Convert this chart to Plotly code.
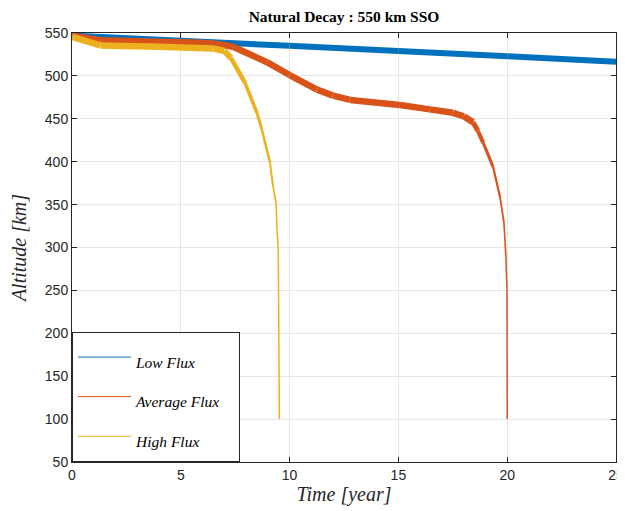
import plotly.graph_objects as go

# ---- data ----
time_low = [0, 5, 10, 15, 20, 25]
alt_low = [547, 541, 535, 529, 523, 516.5]

time_avg = [0, 1.3, 3.5, 6.0, 6.6, 7.4, 8.96, 10.0, 11.26, 12.0, 12.78, 15.07,
            16.45, 17.5, 18.0, 18.43, 18.65, 18.9, 19.35, 19.67, 19.85, 19.94, 19.99, 20.0]
alt_avg = [547, 541.5, 540, 538.5, 537.5, 534, 516, 501, 484, 477, 472, 466,
           461, 457, 453, 446, 436, 422, 394, 359, 329, 289, 251, 100]

time_high = [0, 1.3, 4, 6.5, 7.0, 7.3, 7.95, 8.5, 8.73, 9.1, 9.24, 9.38, 9.42, 9.48, 9.53]
alt_high = [545.5, 535.5, 534, 532, 529, 521, 492, 457, 437, 399, 371, 352, 321, 298, 100]

series_names = ["Low Flux", "Average Flux", "High Flux"]
x_ticks = [0, 5, 10, 15, 20, 25]
y_ticks = [50, 100, 150, 200, 250, 300, 350, 400, 450, 500, 550]

# ---- styles ----
colors = ["#0072BD", "#D95319", "#EDB120"]
# per-segment line widths (dense samples look thick where decay is slow)
w_low = [6] * (len(time_low) - 1)
w_avg = [6.5] * 15 + [5, 4, 3, 2.2, 1.8, 1.6, 1.5, 1.5]
w_high = [6.5] * 4 + [6, 4.5, 3.5, 3, 2.5, 2, 1.7, 1.6, 1.5, 1.5]

fig = go.Figure()

def add_series(xs, ys, widths, color):
    for i in range(len(xs) - 1):
        fig.add_trace(go.Scatter(
            x=xs[i:i + 2], y=ys[i:i + 2], mode="lines",
            line=dict(color=color, width=widths[i]),
            showlegend=False, hoverinfo="skip"))

add_series(time_low, alt_low, w_low, colors[0])
add_series(time_avg, alt_avg, w_avg, colors[1])
add_series(time_high, alt_high, w_high, colors[2])

# legend entries
for i, name in enumerate(series_names):
    fig.add_trace(go.Scatter(
        x=[None], y=[None], mode="lines",
        name="<span style='font-size:15.5px'><i>" + name + "</i></span>&nbsp;&nbsp;",
        line=dict(color=colors[i], width=1), legendgroup=str(i)))

axis_common = dict(
    showline=True, linecolor="#262626", linewidth=1, mirror="ticks",
    ticks="inside", ticklen=5, tickcolor="#262626", automargin=False,
    showgrid=True, gridcolor="#E6E6E6", gridwidth=1, zeroline=False,
    tickfont=dict(family="Liberation Sans, Arial", size=14, color="#262626"),
)

serif = "Liberation Serif, Times New Roman, serif"

# the page body adds an 8 px offset, so the figure is 617 x 503
fig.update_layout(
    width=617, height=503,
    margin=dict(l=64, r=9, t=25, b=49, autoexpand=False),
    paper_bgcolor="white", plot_bgcolor="white",
    title=dict(text="<b>Natural Decay : 550 km SSO</b>", x=0.5, xanchor="center",
               xref="paper", y=1 - 9 / 503, yanchor="middle",
               font=dict(family=serif, size=15.5, color="#000000")),
    xaxis=dict(range=[0, 25], tickvals=x_ticks,
               title=dict(text="<i>Time [year]</i>", standoff=0,
                          font=dict(family=serif, size=20, color="#262626")),
               **axis_common),
    yaxis=dict(range=[50, 550], tickvals=y_ticks,
               title=dict(text="<i>Altitude [km]</i>", standoff=12,
                          font=dict(family=serif, size=20, color="#262626")),
               **axis_common),
    legend=dict(x=0, y=0, xanchor="left", yanchor="bottom",
                bgcolor="white", bordercolor="#262626", borderwidth=1,
                tracegroupgap=1.5, itemwidth=53,
                font=dict(family=serif, size=27, color="#000000")),
)

fig.write_html("out.html")
